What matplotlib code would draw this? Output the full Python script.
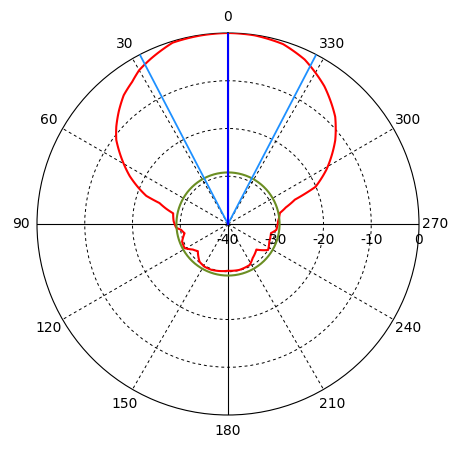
import matplotlib

matplotlib.use("Agg")
import matplotlib.pyplot as plt
import numpy as np

# radiation pattern (angle in degrees, level in dB)
pattern_deg = [0, 8, 17, 25, 30, 34, 39, 44, 49, 53, 59, 64, 68, 71, 73, 76, 79,
               87, 94, 97, 102, 111, 119, 126, 132, 143, 151, 160, 180, 194, 208,
               216, 228, 237, 247, 258, 263, 273, 282, 286, 290, 293, 299, 308,
               315, 325, 335, 343, 352, 360]
pattern_db = [0.0, -0.1, -0.3, -1.8, -2.8, -4.1, -5.3, -7.1, -9.0, -10.7, -14.2,
              -17.1, -19.8, -21.9, -25.0, -26.6, -28.3, -28.6, -29.1, -30.1, -30.7,
              -29.7, -29.6, -30.9, -31.5, -30.1, -29.8, -29.8, -30.2, -30.1, -30.3,
              -31.2, -32.0, -30.0, -30.6, -30.8, -29.8, -29.5, -28.9, -27.4, -25.1,
              -20.1, -16.4, -11.5, -8.25, -4.8, -2.0, -0.6, -0.1, 0.0]

ref_level_db = -29.2
main_dir_deg = 0
beam_edges_deg = [27.5, 332.5]

r_min, r_max = -40, 0
ring_levels = [-30, -20, -10]
radial_labels = [-40, -30, -20, -10, 0]
angle_labels = list(range(0, 360, 30))

fig = plt.figure(figsize=(4.6, 4.51), dpi=100)
ax = fig.add_axes([37 / 460, 36 / 451, 382 / 460, 382 / 451], projection="polar")
ax.set_theta_zero_location("N")
ax.set_theta_direction(1)
ax.set_ylim(r_min, r_max)

ax.set_rgrids(ring_levels, labels=[""] * len(ring_levels))
ax.set_thetagrids(angle_labels, labels=[""] * len(angle_labels))
ax.grid(True, color="black", linestyle=(0, (3, 3)), linewidth=0.7)
ax.tick_params(length=0)
ax.spines["polar"].set_linewidth(0.8)

# solid axes through the centre
for a in (0, 90, 180, 270):
  ax.plot(np.radians([a, a]), [r_min, r_max], color="black", linewidth=0.8)

theta = np.radians(pattern_deg)
(red_line,) = ax.plot(theta, pattern_db, color="#ff0000", linewidth=1.5, zorder=3)
# draw segments straight in (theta, r) so the lobe comes out smooth
red_line.get_path()._interpolation_steps = 12

circle_theta = np.radians(np.arange(0, 361, 2))
ax.plot(circle_theta, [ref_level_db] * len(circle_theta), color="#6b8e23", linewidth=1.5, zorder=4)

for a in beam_edges_deg:
  ax.plot(np.radians([a, a]), [r_min, r_max], color="#1e90ff", linewidth=1.3, zorder=5)
ax.plot(np.radians([main_dir_deg, main_dir_deg]), [r_min, r_max], color="#0000ff", linewidth=1.5, zorder=6)

for a in angle_labels:
  ax.text(np.radians(a), 3.45, str(a), ha="center", va="center", fontsize=10, clip_on=False)

for r in radial_labels:
  ax.annotate(str(r), xy=(np.radians(270), r), xytext=(0, -11.5), textcoords="offset points",
              ha="center", va="center", fontsize=10, annotation_clip=False)

fig.savefig("out.png", dpi=100)
